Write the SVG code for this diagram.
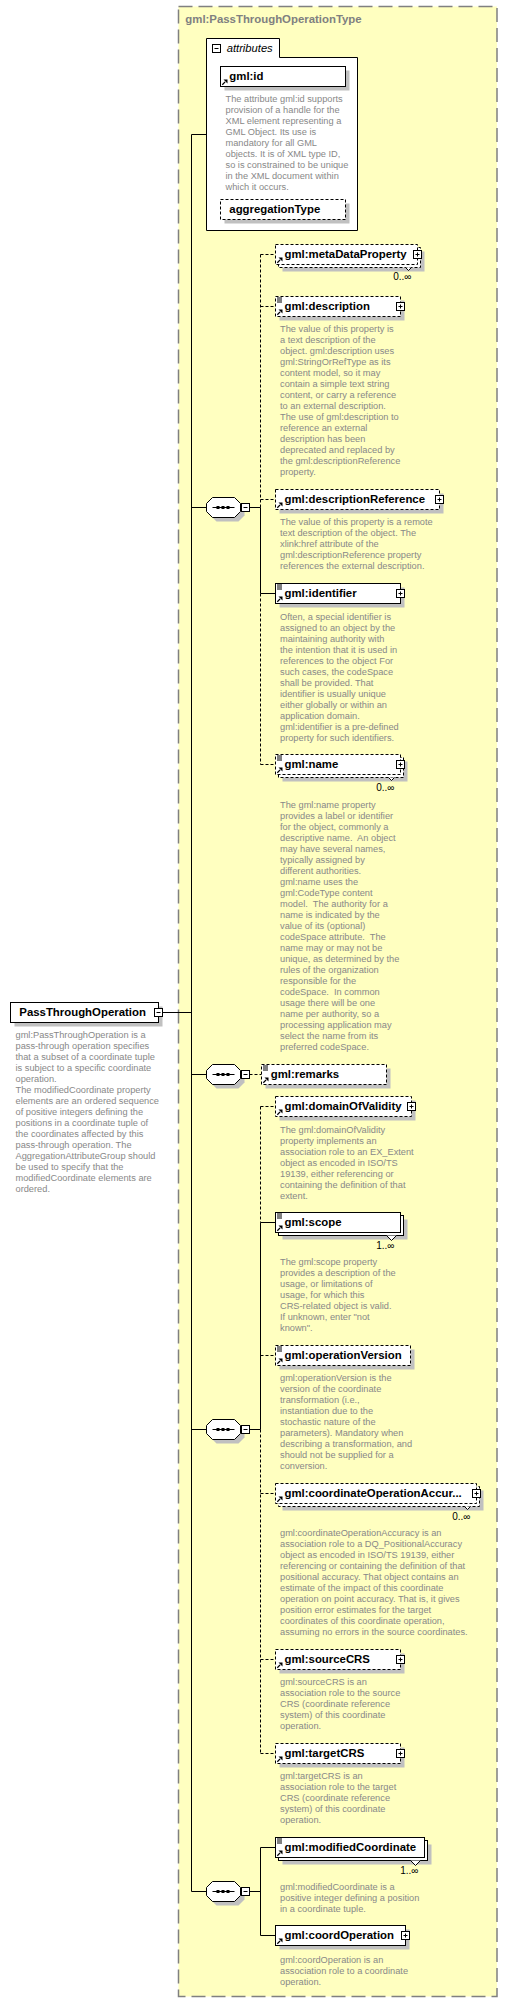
<svg xmlns="http://www.w3.org/2000/svg" width="508" height="2003" viewBox="0 0 508 2003">
<style>
.b{fill:#fff;stroke:#000;stroke-width:1}
.d{stroke-dasharray:3,2}
.s{fill:#c0c0c0}
.n{font:bold 11.4px 'Liberation Sans',Arial,sans-serif;fill:#000}
.t{font:9.25px 'Liberation Sans',Arial,sans-serif;fill:#888}
.m{font:10px 'Liberation Sans',Arial,sans-serif;fill:#000}
.c{stroke:#000;stroke-width:1;fill:none}
</style>
<defs>
<g id="ref"><path d="M1.8,18.2 L4.6,15.4" stroke="#000" stroke-width="1.3"/><path d="M3,13 H7 V17 Z" fill="#000"/></g>
<g id="simple"><path d="M1.5,1.5H6.5M1.5,3.5H6.5M1.5,5.5H6.5" stroke="#000"/></g>
<g id="plus"><rect x="-4" y="-4" width="8" height="8" fill="#fff" stroke="#000"/><path d="M-2,0H2M0,-2V2" stroke="#000"/></g>
<g id="minus"><rect x="-4" y="-4" width="8" height="8" fill="#fff" stroke="#000"/><path d="M-2,0H2" stroke="#000"/></g>
<path id="oct" d="M0,-4 L6,-10 L28,-10 L34,-4 L34,4 L28,10 L6,10 L0,4 Z"/>
<g id="seq">
<use href="#oct" x="4" y="4" fill="#c0c0c0"/>
<use href="#oct" fill="#fff" stroke="#000"/>
<path d="M6,0H28" stroke="#000"/>
<rect x="10" y="-1.5" width="3" height="3" fill="#000"/>
<rect x="15" y="-1.5" width="3" height="3" fill="#000"/>
<rect x="20" y="-1.5" width="3" height="3" fill="#000"/>
<use href="#minus" x="39" y="0"/>
</g>
</defs>

<g id="type-container">
<rect x="178.5" y="6.5" width="318.5" height="1990" fill="#ffffc0" stroke="#808080" stroke-width="1.5" stroke-dasharray="14,6"/>
<text x="185.3" y="23" class="n" fill="#808080" style="fill:#808080">gml:PassThroughOperationType</text>
</g>

<g id="connectors">
<path class="c" d="M162.5,1012.5H191.5M191.5,134.5V1891.5M191.5,134.5H206.5M191.5,507.5H206.5M191.5,1074.5H206.5M191.5,1429.5H206.5M191.5,1891.5H206.5"/>
<path class="c" d="M249.5,507.5H260.5M260.5,507.5V593.5M260.5,593.5H275.5"/>
<path class="c d" d="M260.5,254.5V507.5M260.5,593.5V764.5M260.5,254.5H275.5M260.5,306.5H275.5M260.5,499.5H275.5M260.5,764.5H275.5"/>
<path class="c d" d="M249.5,1074.5H261.5"/>
<path class="c" d="M249.5,1429.5H260.5M260.5,1222.5V1429.5M260.5,1222.5H275.5"/>
<path class="c d" d="M260.5,1106.5V1222.5M260.5,1429.5V1753.5M260.5,1106.5H275.5M260.5,1355.5H275.5M260.5,1493.5H275.5M260.5,1659.5H275.5M260.5,1753.5H275.5"/>
<path class="c" d="M249.5,1891.5H260.5M260.5,1847.5V1935.5M260.5,1847.5H275.5M260.5,1935.5H275.5"/>
</g>

<g id="PassThroughOperation">
<rect x="14.5" y="1006.5" width="148" height="20" class="s"/>
<rect x="10.5" y="1002.5" width="148" height="20" class="b"/>
<text x="19.3" y="1015.7" class="n">PassThroughOperation</text>
<use href="#minus" x="158.5" y="1012.5"/>
<text x="15.5" y="1038" class="t"><tspan x="15.5">gml:PassThroughOperation is a</tspan><tspan x="15.5" dy="11">pass-through operation specifies</tspan><tspan x="15.5" dy="11">that a subset of a coordinate tuple</tspan><tspan x="15.5" dy="11">is subject to a specific coordinate</tspan><tspan x="15.5" dy="11">operation.</tspan><tspan x="15.5" dy="11">The modifiedCoordinate property</tspan><tspan x="15.5" dy="11">elements are an ordered sequence</tspan><tspan x="15.5" dy="11">of positive integers defining the</tspan><tspan x="15.5" dy="11">positions in a coordinate tuple of</tspan><tspan x="15.5" dy="11">the coordinates affected by this</tspan><tspan x="15.5" dy="11">pass-through operation. The</tspan><tspan x="15.5" dy="11">AggregationAttributeGroup should</tspan><tspan x="15.5" dy="11">be used to specify that the</tspan><tspan x="15.5" dy="11">modifiedCoordinate elements are</tspan><tspan x="15.5" dy="11">ordered.</tspan></text>
</g>

<g id="attributes">
<path d="M206.5,230.5V38.5H279.5V57.5H357.5V230.5Z" class="b"/>
<use href="#minus" x="216.5" y="48.5"/>
<text x="226.7" y="52" style="font:italic 11.2px 'Liberation Sans',Arial,sans-serif;fill:#000">attributes</text>
</g>

<g id="attr-gml-id">
<rect x="224.5" y="70.5" width="125" height="20" class="s"/>
<rect x="220.5" y="66.5" width="125" height="20" class="b"/>
<use href="#ref" x="220.5" y="66.5"/>
<text x="229.3" y="79.7" class="n">gml:id</text>
<text x="225.5" y="101.5" class="t"><tspan x="225.5">The attribute gml:id supports</tspan><tspan x="225.5" dy="11">provision of a handle for the</tspan><tspan x="225.5" dy="11">XML element representing a</tspan><tspan x="225.5" dy="11">GML Object. Its use is</tspan><tspan x="225.5" dy="11">mandatory for all GML</tspan><tspan x="225.5" dy="11">objects. It is of XML type ID,</tspan><tspan x="225.5" dy="11">so is constrained to be unique</tspan><tspan x="225.5" dy="11">in the XML document within</tspan><tspan x="225.5" dy="11">which it occurs.</tspan></text>
</g>

<g id="attr-aggregationType">
<rect x="224.5" y="203.5" width="125" height="20" class="s"/>
<rect x="220.5" y="199.5" width="125" height="20" class="b d"/>
<text x="229.3" y="212.7" class="n">aggregationType</text>
</g>

<g id="seq1"><use href="#seq" x="206.5" y="507.5"/></g>
<g id="seq2"><use href="#seq" x="206.5" y="1074.5"/></g>
<g id="seq3"><use href="#seq" x="206.5" y="1429.5"/></g>
<g id="seq4"><use href="#seq" x="206.5" y="1891.5"/></g>

<g id="metaDataProperty">
<rect x="282.5" y="251.5" width="142" height="20" class="s"/>
<rect x="278.5" y="247.5" width="142" height="20" class="b d"/>
<rect x="275.5" y="244.5" width="142" height="20" class="b d"/>
<path d="M405.5,267.5L408.5,270.5L411.5,267.5" class="b"/>
<use href="#ref" x="275.5" y="244.5"/>
<text x="284.5" y="257.5" class="n">gml:metaDataProperty</text>
<use href="#plus" x="417.5" y="254.5"/>
<text x="411.5" y="280" class="m" text-anchor="end">0..∞</text>
</g>

<g id="description">
<rect x="279.5" y="300.5" width="125" height="20" class="s"/>
<rect x="275.5" y="296.5" width="125" height="20" class="b d"/>
<use href="#simple" x="275.5" y="296.5"/>
<use href="#ref" x="275.5" y="296.5"/>
<text x="284.5" y="309.5" class="n">gml:description</text>
<use href="#plus" x="400.5" y="306.5"/>
<text x="280" y="332" class="t"><tspan x="280">The value of this property is</tspan><tspan x="280" dy="11">a text description of the</tspan><tspan x="280" dy="11">object. gml:description uses</tspan><tspan x="280" dy="11">gml:StringOrRefType as its</tspan><tspan x="280" dy="11">content model, so it may</tspan><tspan x="280" dy="11">contain a simple text string</tspan><tspan x="280" dy="11">content, or carry a reference</tspan><tspan x="280" dy="11">to an external description.</tspan><tspan x="280" dy="11">The use of gml:description to</tspan><tspan x="280" dy="11">reference an external</tspan><tspan x="280" dy="11">description has been</tspan><tspan x="280" dy="11">deprecated and replaced by</tspan><tspan x="280" dy="11">the gml:descriptionReference</tspan><tspan x="280" dy="11">property.</tspan></text>
</g>

<g id="descriptionReference">
<rect x="279.5" y="493.5" width="164" height="20" class="s"/>
<rect x="275.5" y="489.5" width="164" height="20" class="b d"/>
<use href="#ref" x="275.5" y="489.5"/>
<text x="284.5" y="502.5" class="n">gml:descriptionReference</text>
<use href="#plus" x="439.5" y="499.5"/>
<text x="280" y="525" class="t"><tspan x="280">The value of this property is a remote</tspan><tspan x="280" dy="11">text description of the object. The</tspan><tspan x="280" dy="11">xlink:href attribute of the</tspan><tspan x="280" dy="11">gml:descriptionReference property</tspan><tspan x="280" dy="11">references the external description.</tspan></text>
</g>

<g id="identifier">
<rect x="279.5" y="587.5" width="125" height="20" class="s"/>
<rect x="275.5" y="583.5" width="125" height="20" class="b"/>
<use href="#simple" x="275.5" y="583.5"/>
<use href="#ref" x="275.5" y="583.5"/>
<text x="284.5" y="596.5" class="n">gml:identifier</text>
<use href="#plus" x="400.5" y="593.5"/>
<text x="280" y="619.5" class="t"><tspan x="280">Often, a special identifier is</tspan><tspan x="280" dy="11">assigned to an object by the</tspan><tspan x="280" dy="11">maintaining authority with</tspan><tspan x="280" dy="11">the intention that it is used in</tspan><tspan x="280" dy="11">references to the object For</tspan><tspan x="280" dy="11">such cases, the codeSpace</tspan><tspan x="280" dy="11">shall be provided. That</tspan><tspan x="280" dy="11">identifier is usually unique</tspan><tspan x="280" dy="11">either globally or within an</tspan><tspan x="280" dy="11">application domain.</tspan><tspan x="280" dy="11">gml:identifier is a pre-defined</tspan><tspan x="280" dy="11">property for such identifiers.</tspan></text>
</g>

<g id="name">
<rect x="282.5" y="761.5" width="125" height="20" class="s"/>
<rect x="278.5" y="757.5" width="125" height="20" class="b d"/>
<rect x="275.5" y="754.5" width="125" height="20" class="b d"/>
<path d="M388.5,777.5L391.5,780.5L394.5,777.5" class="b"/>
<use href="#simple" x="275.5" y="754.5"/>
<use href="#ref" x="275.5" y="754.5"/>
<text x="284.5" y="767.5" class="n">gml:name</text>
<use href="#plus" x="400.5" y="764.5"/>
<text x="394.5" y="791" class="m" text-anchor="end">0..∞</text>
<text x="280" y="807.5" class="t"><tspan x="280">The gml:name property</tspan><tspan x="280" dy="11">provides a label or identifier</tspan><tspan x="280" dy="11">for the object, commonly a</tspan><tspan x="280" dy="11">descriptive name.&#160; An object</tspan><tspan x="280" dy="11">may have several names,</tspan><tspan x="280" dy="11">typically assigned by</tspan><tspan x="280" dy="11">different authorities.</tspan><tspan x="280" dy="11">gml:name uses the</tspan><tspan x="280" dy="11">gml:CodeType content</tspan><tspan x="280" dy="11">model.&#160; The authority for a</tspan><tspan x="280" dy="11">name is indicated by the</tspan><tspan x="280" dy="11">value of its (optional)</tspan><tspan x="280" dy="11">codeSpace attribute.&#160; The</tspan><tspan x="280" dy="11">name may or may not be</tspan><tspan x="280" dy="11">unique, as determined by the</tspan><tspan x="280" dy="11">rules of the organization</tspan><tspan x="280" dy="11">responsible for the</tspan><tspan x="280" dy="11">codeSpace.&#160; In common</tspan><tspan x="280" dy="11">usage there will be one</tspan><tspan x="280" dy="11">name per authority, so a</tspan><tspan x="280" dy="11">processing application may</tspan><tspan x="280" dy="11">select the name from its</tspan><tspan x="280" dy="11">preferred codeSpace.</tspan></text>
</g>

<g id="remarks">
<rect x="265.5" y="1068.5" width="125" height="20" class="s"/>
<rect x="261.5" y="1064.5" width="125" height="20" class="b d"/>
<use href="#simple" x="261.5" y="1064.5"/>
<use href="#ref" x="261.5" y="1064.5"/>
<text x="270.7" y="1077.5" class="n">gml:remarks</text>
</g>

<g id="domainOfValidity">
<rect x="279.5" y="1100.5" width="136" height="20" class="s"/>
<rect x="275.5" y="1096.5" width="136" height="20" class="b d"/>
<use href="#ref" x="275.5" y="1096.5"/>
<text x="284.5" y="1109.5" class="n">gml:domainOfValidity</text>
<use href="#plus" x="411.5" y="1106.5"/>
<text x="280" y="1132.5" class="t"><tspan x="280">The gml:domainOfValidity</tspan><tspan x="280" dy="11">property implements an</tspan><tspan x="280" dy="11">association role to an EX_Extent</tspan><tspan x="280" dy="11">object as encoded in ISO/TS</tspan><tspan x="280" dy="11">19139, either referencing or</tspan><tspan x="280" dy="11">containing the definition of that</tspan><tspan x="280" dy="11">extent.</tspan></text>
</g>

<g id="scope">
<rect x="282.5" y="1219.5" width="125" height="20" class="s"/>
<rect x="278.5" y="1215.5" width="125" height="20" class="b"/>
<rect x="275.5" y="1212.5" width="125" height="20" class="b"/>
<path d="M386.5,1235.5L391.5,1240.5L396.5,1235.5" class="b"/>
<use href="#simple" x="275.5" y="1212.5"/>
<use href="#ref" x="275.5" y="1212.5"/>
<text x="284.5" y="1225.5" class="n">gml:scope</text>
<text x="394.5" y="1249" class="m" text-anchor="end">1..∞</text>
<text x="280" y="1265" class="t"><tspan x="280">The gml:scope property</tspan><tspan x="280" dy="11">provides a description of the</tspan><tspan x="280" dy="11">usage, or limitations of</tspan><tspan x="280" dy="11">usage, for which this</tspan><tspan x="280" dy="11">CRS-related object is valid.</tspan><tspan x="280" dy="11">If unknown, enter "not</tspan><tspan x="280" dy="11">known".</tspan></text>
</g>

<g id="operationVersion">
<rect x="279.5" y="1349.5" width="135" height="20" class="s"/>
<rect x="275.5" y="1345.5" width="135" height="20" class="b d"/>
<use href="#simple" x="275.5" y="1345.5"/>
<use href="#ref" x="275.5" y="1345.5"/>
<text x="284.5" y="1358.5" class="n">gml:operationVersion</text>
<text x="280" y="1381" class="t"><tspan x="280">gml:operationVersion is the</tspan><tspan x="280" dy="11">version of the coordinate</tspan><tspan x="280" dy="11">transformation (i.e.,</tspan><tspan x="280" dy="11">instantiation due to the</tspan><tspan x="280" dy="11">stochastic nature of the</tspan><tspan x="280" dy="11">parameters). Mandatory when</tspan><tspan x="280" dy="11">describing a transformation, and</tspan><tspan x="280" dy="11">should not be supplied for a</tspan><tspan x="280" dy="11">conversion.</tspan></text>
</g>

<g id="coordinateOperationAccuracy">
<rect x="282.5" y="1490.5" width="201" height="20" class="s"/>
<rect x="278.5" y="1486.5" width="201" height="20" class="b d"/>
<rect x="275.5" y="1483.5" width="201" height="20" class="b d"/>
<path d="M464.5,1506.5L467.5,1509.5L470.5,1506.5" class="b"/>
<use href="#ref" x="275.5" y="1483.5"/>
<text x="284.5" y="1496.5" class="n">gml:coordinateOperationAccur...</text>
<use href="#plus" x="476.5" y="1493.5"/>
<text x="470.5" y="1520" class="m" text-anchor="end">0..∞</text>
<text x="280" y="1536" class="t"><tspan x="280">gml:coordinateOperationAccuracy is an</tspan><tspan x="280" dy="11">association role to a DQ_PositionalAccuracy</tspan><tspan x="280" dy="11">object as encoded in ISO/TS 19139, either</tspan><tspan x="280" dy="11">referencing or containing the definition of that</tspan><tspan x="280" dy="11">positional accuracy. That object contains an</tspan><tspan x="280" dy="11">estimate of the impact of this coordinate</tspan><tspan x="280" dy="11">operation on point accuracy. That is, it gives</tspan><tspan x="280" dy="11">position error estimates for the target</tspan><tspan x="280" dy="11">coordinates of this coordinate operation,</tspan><tspan x="280" dy="11">assuming no errors in the source coordinates.</tspan></text>
</g>

<g id="sourceCRS">
<rect x="279.5" y="1653.5" width="125" height="20" class="s"/>
<rect x="275.5" y="1649.5" width="125" height="20" class="b d"/>
<use href="#ref" x="275.5" y="1649.5"/>
<text x="284.5" y="1662.5" class="n">gml:sourceCRS</text>
<use href="#plus" x="400.5" y="1659.5"/>
<text x="280" y="1685" class="t"><tspan x="280">gml:sourceCRS is an</tspan><tspan x="280" dy="11">association role to the source</tspan><tspan x="280" dy="11">CRS (coordinate reference</tspan><tspan x="280" dy="11">system) of this coordinate</tspan><tspan x="280" dy="11">operation.</tspan></text>
</g>

<g id="targetCRS">
<rect x="279.5" y="1747.5" width="125" height="20" class="s"/>
<rect x="275.5" y="1743.5" width="125" height="20" class="b d"/>
<use href="#ref" x="275.5" y="1743.5"/>
<text x="284.5" y="1756.5" class="n">gml:targetCRS</text>
<use href="#plus" x="400.5" y="1753.5"/>
<text x="280" y="1779" class="t"><tspan x="280">gml:targetCRS is an</tspan><tspan x="280" dy="11">association role to the target</tspan><tspan x="280" dy="11">CRS (coordinate reference</tspan><tspan x="280" dy="11">system) of this coordinate</tspan><tspan x="280" dy="11">operation.</tspan></text>
</g>

<g id="modifiedCoordinate">
<rect x="282.5" y="1844.5" width="149" height="20" class="s"/>
<rect x="278.5" y="1840.5" width="149" height="20" class="b"/>
<rect x="275.5" y="1837.5" width="149" height="20" class="b"/>
<path d="M410.5,1860.5L415.5,1865.5L420.5,1860.5" class="b"/>
<use href="#simple" x="275.5" y="1837.5"/>
<use href="#ref" x="275.5" y="1837.5"/>
<text x="284.5" y="1850.5" class="n">gml:modifiedCoordinate</text>
<text x="418.5" y="1874" class="m" text-anchor="end">1..∞</text>
<text x="280" y="1890" class="t"><tspan x="280">gml:modifiedCoordinate is a</tspan><tspan x="280" dy="11">positive integer defining a position</tspan><tspan x="280" dy="11">in a coordinate tuple.</tspan></text>
</g>

<g id="coordOperation">
<rect x="279.5" y="1929.5" width="130" height="20" class="s"/>
<rect x="275.5" y="1925.5" width="130" height="20" class="b"/>
<use href="#ref" x="275.5" y="1925.5"/>
<text x="284.5" y="1938.5" class="n">gml:coordOperation</text>
<use href="#plus" x="405.5" y="1935.5"/>
<text x="280" y="1962.5" class="t"><tspan x="280">gml:coordOperation is an</tspan><tspan x="280" dy="11">association role to a coordinate</tspan><tspan x="280" dy="11">operation.</tspan></text>
</g>
</svg>
